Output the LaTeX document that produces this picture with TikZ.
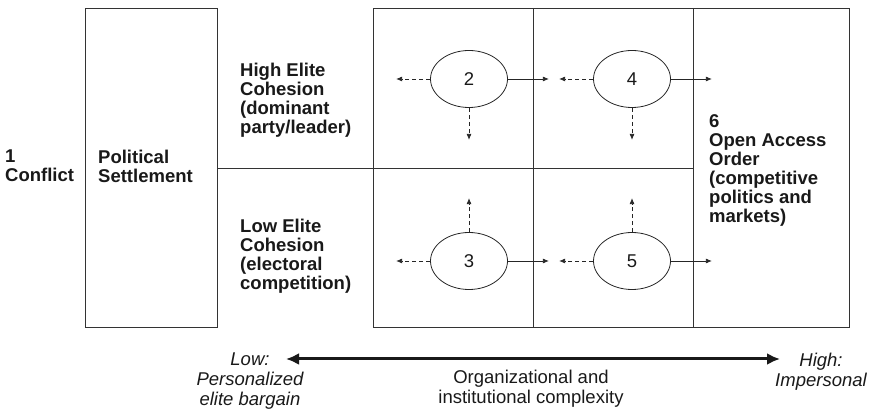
\documentclass[tikz,border=0pt]{standalone}
\usepackage{fontspec}
\setmainfont{Liberation Sans}
\usepackage{tikz}
\usetikzlibrary{arrows.meta,shapes.geometric,positioning}

\tikzset{
  frame/.style={line width=0.9pt, draw=black!80},
  stage/.style={ellipse, draw=black!85, line width=0.8pt, minimum width=77pt, minimum height=57pt, inner sep=0pt, text=black!90, font=\fontsize{18.5}{19}\selectfont},
  move/.style={line width=0.8pt, draw=black!85, -{Latex[length=6pt,width=5pt]}},
  maybe/.style={move, dash pattern=on 4pt off 3pt},
  boldtxt/.style={anchor=west, align=left, inner sep=0pt, text=black!90, font=\bfseries\fontsize{18.5}{19}\selectfont},
  axistxt/.style={align=center, inner sep=0pt, text=black!90, font=\fontsize{18.5}{20}\selectfont}
}

\begin{document}
\begin{tikzpicture}[x=1pt,y=-1pt]
\useasboundingbox (0,0) rectangle (876,411);
\draw[frame] (85,8) rectangle (217,327);
\draw[frame] (373,8) rectangle (849,327);
\draw[frame] (533,8) -- (533,327);
\draw[frame] (693,8) -- (693,327);
\draw[frame] (217,168) -- (693,168);
\node[boldtxt] (conflict) at (5,166) {1\\Conflict};
\node[boldtxt] (settle) at (98,166) {Political\\Settlement};
\node[boldtxt] (high) at (240,100) {High Elite\\Cohesion\\(dominant\\party/leader)};
\node[boldtxt] (low) at (240,256) {Low Elite\\Cohesion\\(electoral\\competition)};
\node[boldtxt] (open) at (709,170) {6\\Open Access\\Order\\(competitive\\politics and\\markets)};
\node[stage] (s2) at (469,79) {2};
\node[stage] (s4) at (632,79) {4};
\node[stage] (s3) at (469,261) {3};
\node[stage] (s5) at (632,261) {5};
\foreach \s in {2,3,4,5} {
  \draw[maybe] (s\s.west) -- ++(-34,0) coordinate (s\s w);
  \draw[move] (s\s.east) -- ++(41,0) coordinate (s\s e);
}
\foreach \s in {2,4} \draw[maybe] (s\s.south) -- ++(0,32) coordinate (s\s d);
\foreach \s in {3,5} \draw[maybe] (s\s.north) -- ++(0,-34) coordinate (s\s u);
\node[axistxt] (lowend) at (250,381) {\itshape Low:\\\itshape Personalized\\\itshape elite bargain};
\node[axistxt] (highend) at (821,372) {\itshape High:\\\itshape Impersonal};
\node[axistxt] (complex) at (531,389) {Organizational and\\institutional complexity};
\coordinate (lowtip) at (286,359);
\coordinate (hightip) at (780,359);
\draw[line width=3pt, black!90, {Latex[length=13pt,width=12pt]}-{Latex[length=13pt,width=12pt]}] (lowtip) -- (hightip);
\end{tikzpicture}
\end{document}
